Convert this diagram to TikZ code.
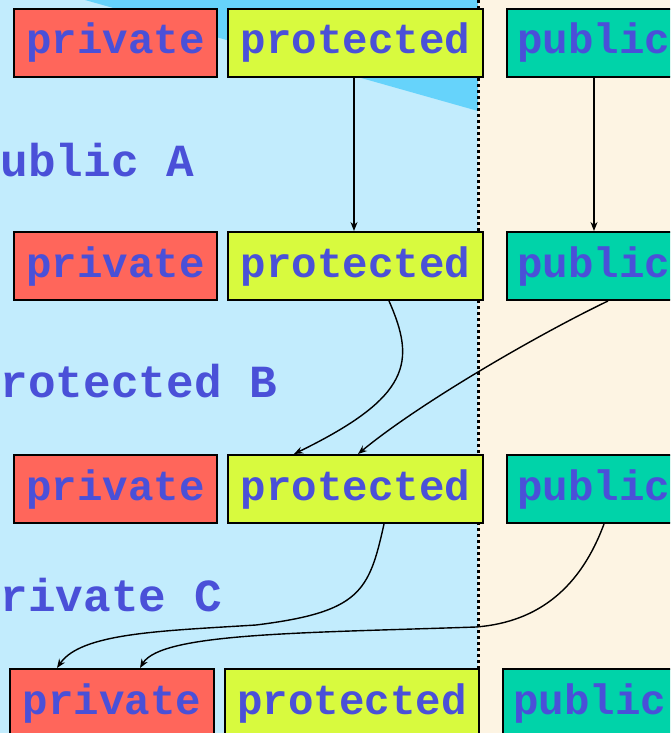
\documentclass[tikz,border=0pt]{standalone}
\usepackage{fontspec}
\setmonofont{Liberation Mono}
\usetikzlibrary{arrows.meta,calc}
\definecolor{bgblue}{HTML}{C2ECFD}
\definecolor{triblue}{HTML}{66D3FB}
\definecolor{beige}{HTML}{FDF4E3}
\definecolor{privred}{HTML}{FF665B}
\definecolor{protyel}{HTML}{D8FA3E}
\definecolor{pubteal}{HTML}{00D3A9}
\definecolor{txtblue}{HTML}{4A50D8}
\tikzset{
  box/.style={draw=black, line width=2pt, anchor=north west, minimum height=68pt,
    inner sep=0pt, text height=32pt, text depth=10pt, text=txtblue,
    font=\ttfamily\bfseries\fontsize{42.5}{45}\selectfont},
  privbox/.style={box, fill=privred, minimum width=203pt},
  protbox/.style={box, fill=protyel, minimum width=255pt},
  pubbox/.style={box, fill=pubteal, minimum width=174pt},
  lbl/.style={anchor=base west, inner sep=0pt, text=txtblue,
    font=\ttfamily\bfseries\fontsize{46}{50}\selectfont},
  conn/.style={draw=black, line width=1.4pt, -{Stealth[length=9pt,width=7pt]}}
}
\begin{document}
\begin{tikzpicture}[x=1pt,y=-1pt]
\useasboundingbox (0,0) rectangle (670,733);
\clip (0,0) rectangle (670,733);
% backgrounds
\fill[bgblue] (0,0) rectangle (478,733);
\fill[beige] (478,0) rectangle (670,733);
\fill[triblue] (85,0) -- (478,0) -- (478,111) -- cycle;
\draw[line width=3pt, dash pattern=on 3pt off 3pt] (478,0) -- (478,733);
% row 1
\node[privbox] (pv1) at (13,8) {private};
\node[protbox] (pt1) at (227,8) {protected};
\node[pubbox]  (pb1) at (506,8) {public};
% row 2
\node[privbox] (pv2) at (13,231) {private};
\node[protbox] (pt2) at (227,231) {protected};
\node[pubbox]  (pb2) at (506,231) {public};
% row 3
\node[privbox] (pv3) at (13,454) {private};
\node[protbox] (pt3) at (227,454) {protected};
\node[pubbox]  (pb3) at (506,454) {public};
% row 4
\node[privbox, minimum width=204pt] (pv4) at (9,668) {private};
\node[protbox, minimum width=254pt] (pt4) at (224,668) {protected};
\node[pubbox]  (pb4) at (502,668) {public};
% labels
\node[lbl] (la) at (-27,176) {public A};
\node[lbl] (lb) at (-27,397) {protected B};
\node[lbl] (lc) at (-27,611) {private C};
% connectors
\draw[conn] ([xshift=-1.5pt]pt1.south) -- ([xshift=-1.5pt]pt2.north);
\draw[conn] (pb1.south) -- (pb2.north);
\draw[conn] ([xshift=33.5pt]pt2.south) .. controls +(27,61) and +(117,-57) .. ([xshift=-61.5pt]pt3.north);
\draw[conn] ([xshift=14pt]pb2.south) .. controls +(-67,32) and +(63,-52) .. ([xshift=2.5pt]pt3.north);
\draw[conn] ([xshift=28.5pt]pt3.south) .. controls +(-15,68) and (360,612) .. (256,625)
  .. controls (160,631) and +(24,-35) .. ([xshift=-55pt]pv4.north);
\draw[conn] ([xshift=10pt]pb3.south) .. controls +(-23,62) and (540,622) .. (476,627)
  .. controls (300,633) and +(21,-35) .. ([xshift=28pt]pv4.north);
\end{tikzpicture}
\end{document}
